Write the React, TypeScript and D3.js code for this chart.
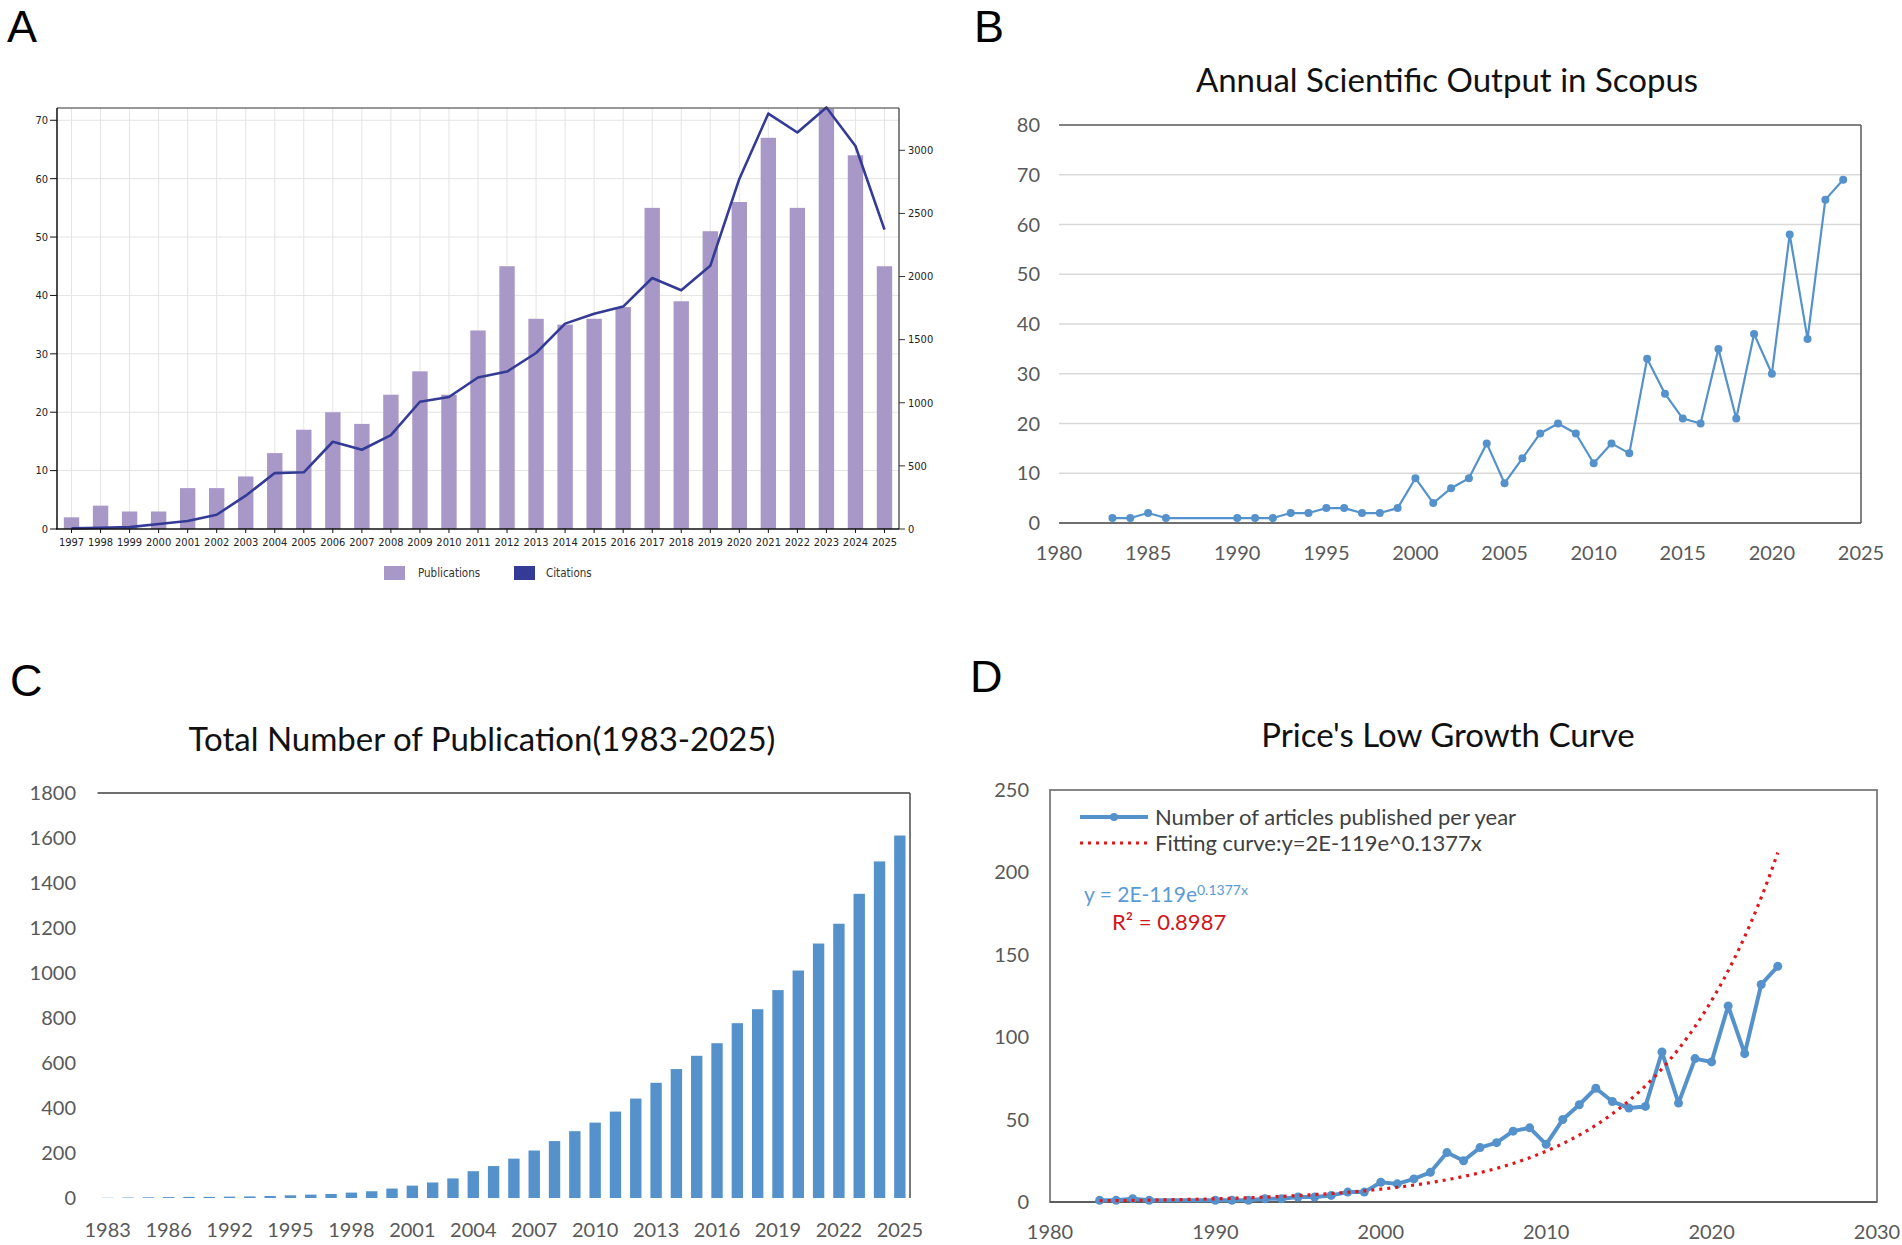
import * as React from "react";
import * as d3 from "d3";

// ---- panel A: publications (bars) and citations (line), 1997-2025
const A_YEARS = [
  1997, 1998, 1999, 2000, 2001, 2002, 2003, 2004, 2005, 2006, 2007, 2008, 2009, 2010, 2011,
  2012, 2013, 2014, 2015, 2016, 2017, 2018, 2019, 2020, 2021, 2022, 2023, 2024, 2025,
];
const A_PUBLICATIONS = [
  2, 4, 3, 3, 7, 7, 9, 13, 17, 20, 18, 23, 27, 23, 34, 45, 36, 35, 36, 38, 55, 39, 51, 56, 67, 55,
  72, 64, 45,
];
const A_CITATIONS = [
  5, 10, 15, 40, 63, 113, 264, 443, 449, 691, 628, 744, 1008, 1046, 1200, 1247, 1394, 1627, 1705,
  1762, 1988, 1891, 2085, 2773, 3291, 3141, 3339, 3034, 2371,
];
const A_LEFT_TICKS = [0, 10, 20, 30, 40, 50, 60, 70];
const A_RIGHT_TICKS = [0, 500, 1000, 1500, 2000, 2500, 3000];

// ---- panel B / D: yearly output (1987-1989 have no records)
const YEARS = [
  1983, 1984, 1985, 1986, 1990, 1991, 1992, 1993, 1994, 1995, 1996, 1997, 1998, 1999, 2000, 2001,
  2002, 2003, 2004, 2005, 2006, 2007, 2008, 2009, 2010, 2011, 2012, 2013, 2014, 2015, 2016, 2017,
  2018, 2019, 2020, 2021, 2022, 2023, 2024,
];
const B_VALUES = [
  1, 1, 2, 1, 1, 1, 1, 2, 2, 3, 3, 2, 2, 3, 9, 4, 7, 9, 16, 8, 13, 18, 20, 18, 12, 16, 14, 33, 26,
  21, 20, 35, 21, 38, 30, 58, 37, 65, 69,
];
const B_Y_TICKS = [0, 10, 20, 30, 40, 50, 60, 70, 80];
const B_X_TICKS = [1980, 1985, 1990, 1995, 2000, 2005, 2010, 2015, 2020, 2025];

const D_VALUES = [
  1, 1, 2, 1, 1, 1, 1, 2, 2, 3, 3, 4, 6, 6, 12, 11, 14, 18, 30, 25, 33, 36, 43, 45, 35, 50, 59,
  69, 61, 57, 58, 91, 60, 87, 85, 119, 90, 132, 143,
];
const D_Y_TICKS = [0, 50, 100, 150, 200, 250];
const D_X_TICKS = [1980, 1990, 2000, 2010, 2020, 2030];
// exponential trendline y = a*e^(0.1377x), anchored on its value read at 2024
const D_FIT_RATE = 0.1377;
const D_FIT_AT_2024 = 212;

// ---- panel C: cumulative publications
const C_YEARS = [
  1983, 1984, 1985, 1986, 1990, 1991, 1992, 1993, 1994, 1995, 1996, 1997, 1998, 1999, 2000, 2001,
  2002, 2003, 2004, 2005, 2006, 2007, 2008, 2009, 2010, 2011, 2012, 2013, 2014, 2015, 2016, 2017,
  2018, 2019, 2020, 2021, 2022, 2023, 2024, 2025,
];
const C_TOTALS = [
  1, 2, 3, 4, 5, 5, 6, 7, 9, 12, 15, 18, 24, 30, 42, 55, 69, 87, 119, 142, 175, 211, 253, 297, 335,
  384, 442, 512, 573, 632, 688, 777, 839, 924, 1011, 1131, 1219, 1352, 1496, 1611,
];
const C_Y_TICKS = [0, 200, 400, 600, 800, 1000, 1200, 1400, 1600, 1800];

const LETTER_FONT = "'Liberation Sans', Arial, sans-serif";
const XL_FONT = "Lato, 'Open Sans', sans-serif";
const A_FONT = "'Liberation Sans Narrow', 'DejaVu Sans Condensed', 'DejaVu Sans', sans-serif";

const PURPLE = "#a898c8";
const NAVY = "#343b96";
const BLUE = "#5592cb";
const RED = "#e0161b";
const AXIS_TEXT = "#595959";
const TITLE_SIZE = 33;

function PanelA() {
  const left = 57, right = 899, top = 108, bottom = 529;
  const x = d3.scaleBand<number>().domain(A_YEARS).range([left, right]).padding(0);
  const bw = x.bandwidth();
  const cx = (d: number) => (x(d) as number) + bw / 2;
  const yL = d3.scaleLinear().domain([0, 72.1]).range([bottom, top]);
  const yR = d3.scaleLinear().domain([0, 3335]).range([bottom, top]);
  const line = d3
    .line<number>()
    .x((d, i) => cx(A_YEARS[i]))
    .y((d) => yR(d));
  const barW = bw * 0.53;

  return (
    <g>
      <text x={7} y={42} fontSize={45} fontFamily={LETTER_FONT}>
        A
      </text>
      {/* grid */}
      {A_LEFT_TICKS.filter((t) => t > 0).map((t) => (
        <line key={"h" + t} x1={left} x2={right} y1={yL(t)} y2={yL(t)} stroke="#e4e4e4" />
      ))}
      {A_YEARS.map((d) => (
        <line key={"v" + d} x1={cx(d)} x2={cx(d)} y1={top} y2={bottom} stroke="#e4e4e4" />
      ))}
      {/* bars */}
      {A_YEARS.map((d, i) => (
        <rect
          key={"b" + d}
          x={cx(d) - barW / 2}
          y={yL(A_PUBLICATIONS[i])}
          width={barW}
          height={bottom - yL(A_PUBLICATIONS[i])}
          fill={PURPLE}
        />
      ))}
      <path d={line(A_CITATIONS) || ""} fill="none" stroke={NAVY} strokeWidth={2.6} strokeLinejoin="round" />
      {/* frame and axes */}
      <line x1={left} x2={right} y1={top} y2={top} stroke="#333" strokeWidth={1.2} />
      <line x1={left} x2={left} y1={top} y2={bottom} stroke="#111" strokeWidth={1.5} />
      <line x1={right} x2={right} y1={top} y2={bottom} stroke="#333" strokeWidth={1.2} />
      <line x1={left - 1} x2={right} y1={bottom} y2={bottom} stroke="#111" strokeWidth={1.5} />
      {A_LEFT_TICKS.map((t) => (
        <g key={"lt" + t}>
          <line x1={left - 7} x2={left} y1={yL(t)} y2={yL(t)} stroke="#111" />
          <text x={left - 9} y={yL(t)} dy="0.35em" textAnchor="end" fontSize={11} fontFamily={A_FONT} fill="#222">
            {t}
          </text>
        </g>
      ))}
      {A_RIGHT_TICKS.map((t) => (
        <g key={"rt" + t}>
          <line x1={right} x2={right + 6} y1={yR(t)} y2={yR(t)} stroke="#333" />
          <text x={right + 9} y={yR(t)} dy="0.35em" fontSize={11} fontFamily={A_FONT} fill="#222">
            {t}
          </text>
        </g>
      ))}
      {A_YEARS.map((d) => (
        <g key={"xt" + d}>
          <line x1={cx(d)} x2={cx(d)} y1={bottom} y2={bottom + 4} stroke="#111" />
          <text x={cx(d)} y={542} dy="0.35em" textAnchor="middle" fontSize={11} fontFamily={A_FONT} fill="#222">
            {d}
          </text>
        </g>
      ))}
      {/* legend */}
      <rect x={384} y={566} width={21} height={14} fill={PURPLE} />
      <text x={418} y={573} dy="0.35em" fontSize={11.5} fontFamily={A_FONT} fill="#333">
        Publications
      </text>
      <rect x={514} y={566} width={21} height={14} fill={NAVY} />
      <text x={546} y={573} dy="0.35em" fontSize={11.5} fontFamily={A_FONT} fill="#333">
        Citations
      </text>
    </g>
  );
}

function PanelB() {
  const left = 1059, right = 1861, top = 125, bottom = 523;
  const x = d3.scaleLinear().domain([1980, 2025]).range([left, right]);
  const y = d3.scaleLinear().domain([0, 80]).range([bottom, top]);
  const line = d3
    .line<number>()
    .x((d, i) => x(YEARS[i]))
    .y((d) => y(d));
  return (
    <g>
      <text x={974} y={42} fontSize={45} fontFamily={LETTER_FONT}>
        B
      </text>
      <text x={1447} y={92} textAnchor="middle" fontSize={TITLE_SIZE} fontFamily={XL_FONT} fill="#111">
        Annual Scientific Output in Scopus
      </text>
      {B_Y_TICKS.filter((t) => t > 0 && t < 80).map((t) => (
        <line key={t} x1={left} x2={right} y1={y(t)} y2={y(t)} stroke="#d9d9d9" strokeWidth={1.5} />
      ))}
      <line x1={left} x2={right} y1={top} y2={top} stroke="#595959" strokeWidth={1.5} />
      <line x1={right} x2={right} y1={top} y2={bottom} stroke="#595959" strokeWidth={1.5} />
      <line x1={left} x2={right} y1={bottom} y2={bottom} stroke="#404040" strokeWidth={1.5} />
      <path d={line(B_VALUES) || ""} fill="none" stroke={BLUE} strokeWidth={2.2} strokeLinejoin="round" />
      {B_VALUES.map((v, i) => (
        <circle key={i} cx={x(YEARS[i])} cy={y(v)} r={4} fill={BLUE} />
      ))}
      {B_Y_TICKS.map((t) => (
        <text key={t} x={1040} y={y(t)} dy="0.35em" textAnchor="end" fontSize={20} fontFamily={XL_FONT} fill={AXIS_TEXT}>
          {t}
        </text>
      ))}
      {B_X_TICKS.map((t) => (
        <text key={t} x={x(t)} y={553} dy="0.35em" textAnchor="middle" fontSize={20} fontFamily={XL_FONT} fill={AXIS_TEXT}>
          {t}
        </text>
      ))}
    </g>
  );
}

function PanelC() {
  const left = 97.5, right = 910, top = 793, bottom = 1198;
  const x = d3.scaleBand<number>().domain(C_YEARS).range([left, right]).padding(0);
  const bw = x.bandwidth();
  const cx = (d: number) => (x(d) as number) + bw / 2;
  const y = d3.scaleLinear().domain([0, 1800]).range([bottom, top]);
  const barW = bw * 0.56;
  return (
    <g>
      <text x={10} y={696} fontSize={45} fontFamily={LETTER_FONT}>
        C
      </text>
      <text x={482} y={751} textAnchor="middle" fontSize={TITLE_SIZE} fontFamily={XL_FONT} fill="#111">
        Total Number of Publication(1983-2025)
      </text>
      {C_YEARS.map((d, i) => (
        <rect
          key={d}
          x={cx(d) - barW / 2}
          y={y(C_TOTALS[i])}
          width={barW}
          height={bottom - y(C_TOTALS[i])}
          fill={BLUE}
        />
      ))}
      <line x1={left} x2={right} y1={top} y2={top} stroke="#404040" strokeWidth={1.4} />
      <line x1={right} x2={right} y1={top} y2={bottom} stroke="#404040" strokeWidth={1.4} />
      {C_Y_TICKS.map((t) => (
        <text key={t} x={76} y={y(t)} dy="0.35em" textAnchor="end" fontSize={20} fontFamily={XL_FONT} fill={AXIS_TEXT}>
          {t}
        </text>
      ))}
      {C_YEARS.filter((d, i) => i % 3 === 0).map((d) => (
        <text key={d} x={cx(d)} y={1230} dy="0.35em" textAnchor="middle" fontSize={20} fontFamily={XL_FONT} fill={AXIS_TEXT}>
          {d}
        </text>
      ))}
    </g>
  );
}

function PanelD() {
  const left = 1050, right = 1877, top = 790, bottom = 1202;
  const x = d3.scaleLinear().domain([1980, 2030]).range([left, right]);
  const y = d3.scaleLinear().domain([0, 250]).range([bottom, top]);
  const line = d3
    .line<number>()
    .x((d, i) => x(YEARS[i]))
    .y((d) => y(d));
  const fitYears = d3.range(YEARS[0], YEARS[YEARS.length - 1] + 0.01, 0.25);
  const fit = d3
    .line<number>()
    .x((d) => x(d))
    .y((d) => y(D_FIT_AT_2024 * Math.exp(D_FIT_RATE * (d - 2024))))
    .curve(d3.curveMonotoneX);
  return (
    <g>
      <text x={970} y={692} fontSize={45} fontFamily={LETTER_FONT}>
        D
      </text>
      <text x={1448} y={747} textAnchor="middle" fontSize={TITLE_SIZE} fontFamily={XL_FONT} fill="#111">
        Price's Low Growth Curve
      </text>
      <rect x={left} y={top} width={right - left} height={bottom - top} fill="none" stroke="#7a7a7a" strokeWidth={1.8} />
      <line x1={left} x2={right} y1={bottom} y2={bottom} stroke="#505050" strokeWidth={1.6} />
      <path d={line(D_VALUES) || ""} fill="none" stroke={BLUE} strokeWidth={4} strokeLinejoin="round" />
      {D_VALUES.map((v, i) => (
        <circle key={i} cx={x(YEARS[i])} cy={y(v)} r={4.5} fill={BLUE} />
      ))}
      <path d={fit(fitYears) || ""} fill="none" stroke={RED} strokeWidth={3.2} strokeDasharray="3 5" />
      {D_Y_TICKS.map((t) => (
        <text key={t} x={1029} y={y(t)} dy="0.35em" textAnchor="end" fontSize={20} fontFamily={XL_FONT} fill={AXIS_TEXT}>
          {t}
        </text>
      ))}
      {D_X_TICKS.map((t) => (
        <text key={t} x={x(t)} y={1232} dy="0.35em" textAnchor="middle" fontSize={20} fontFamily={XL_FONT} fill={AXIS_TEXT}>
          {t}
        </text>
      ))}
      {/* legend */}
      <line x1={1080} x2={1148} y1={817} y2={817} stroke={BLUE} strokeWidth={4} />
      <circle cx={1114} cy={817} r={4} fill={BLUE} />
      <text x={1155} y={817} dy="0.35em" fontSize={22} fontFamily={XL_FONT} fill="#404040">
        Number of articles published per year
      </text>
      <line x1={1080} x2={1148} y1={843} y2={843} stroke={RED} strokeWidth={3.2} strokeDasharray="3 5" />
      <text x={1155} y={843} dy="0.35em" fontSize={22} fontFamily={XL_FONT} fill="#404040">
        Fitting curve:y=2E-119e^0.1377x
      </text>
      <text x={1084} y={895} dy="0.35em" fontSize={21} fontFamily={XL_FONT} fill="#5b9bd5">
        y = 2E-119e
        <tspan dy="-0.55em" fontSize={14}>
          0.1377x
        </tspan>
      </text>
      <text x={1112} y={922} dy="0.35em" fontSize={22} fontFamily={XL_FONT} fill="#d0141c">
        R² = 0.8987
      </text>
    </g>
  );
}

export default function App() {
  return (
    <svg
      width={1902}
      height={1245}
      viewBox="0 0 1902 1245"
      style={{ position: "absolute", left: 0, top: 0, background: "#fff" }}
    >
      <rect width={1902} height={1245} fill="#fff" />
      <PanelA />
      <PanelB />
      <PanelC />
      <PanelD />
    </svg>
  );
}
